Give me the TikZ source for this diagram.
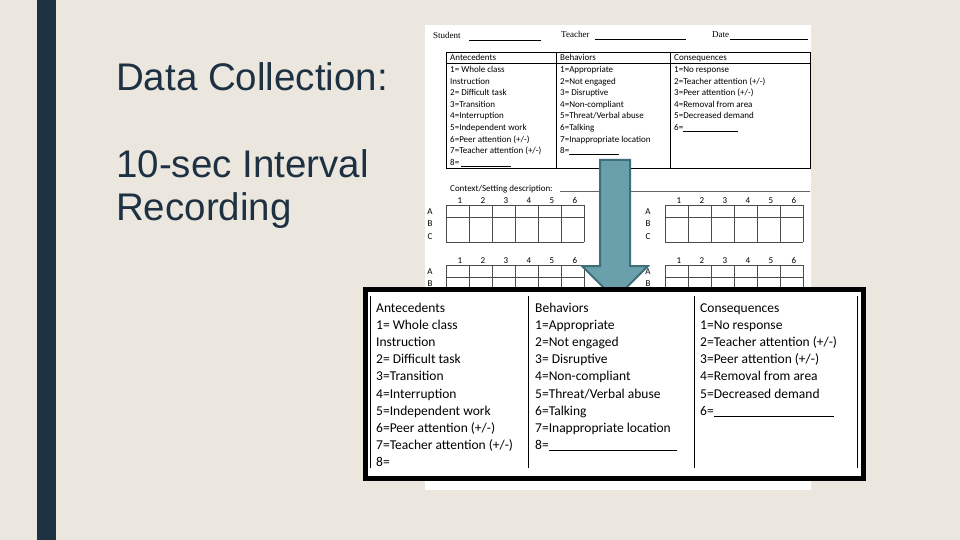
\documentclass[tikz,border=0pt]{standalone}
\usepackage{fontspec}
\setmainfont{Carlito}
\newfontfamily\titlefont{Liberation Sans}
\newfontfamily\formfont{Liberation Serif}
\definecolor{bg}{HTML}{EBE7DF}
\definecolor{bar}{HTML}{1E3142}
\definecolor{arrowfill}{HTML}{6AA0A9}
\definecolor{arrowline}{HTML}{3E6E77}
\begin{document}
\begin{tikzpicture}[x=1pt,y=-1pt,
  small/.style={anchor=base west,inner sep=0,font=\fontsize{9}{10}\selectfont},
  big/.style={anchor=base west,inner sep=0,font=\fontsize{13.5}{14}\selectfont},
  title/.style={anchor=base west,inner sep=0,font=\titlefont\fontsize{38.5}{40}\selectfont,text=bar},
  grid/.style={draw=black!70,line width=0.5pt}]
\useasboundingbox (0,0) rectangle (960,540);
\fill[bg] (0,0) rectangle (960,540);
\fill[bar] (37,0) rectangle (56,540);
\node[title] (t1) at (116,91) {Data Collection:};
\node[title] (t2) at (116,178) {10-sec Interval};
\node[title] (t3) at (116,220) {Recording};
% form page
\fill[white] (425,25) rectangle (811,490);
\node[anchor=base west,inner sep=0,font=\formfont\fontsize{9}{10}\selectfont] (st) at (433,39) {Student};
\draw[black,line width=0.4pt] (469,40) -- (541,40);
\node[anchor=base west,inner sep=0,font=\formfont\fontsize{9}{10}\selectfont] (te) at (561,38) {Teacher};
\draw[black,line width=0.4pt] (595,39) -- (686,39);
\node[anchor=base west,inner sep=0,font=\formfont\fontsize{9}{10}\selectfont] (da) at (712,38) {Date};
\draw[black,line width=0.4pt] (730,39) -- (808,39);
% small table
\draw[line width=0.5pt] (446,52) rectangle (810,168);
\draw[line width=0.5pt] (446,63) -- (810,63);
\draw[line width=0.5pt] (556,52) -- (556,168) (670,52) -- (670,168);
\foreach \t [count=\i from 0] in {Antecedents,1= Whole class,Instruction,2= Difficult task,3=Transition,4=Interruption,5=Independent work,6=Peer attention (+/-),7=Teacher attention (+/-),8= \rule[-1pt]{50pt}{0.4pt}}
  \node[small] (sa\i) at (450,{61+11.6*\i}) {\t};
\foreach \t [count=\i from 0] in {Behaviors,1=Appropriate,2=Not engaged,3= Disruptive,4=Non-compliant,5=Threat/Verbal abuse,6=Talking,7=Inappropriate location,8=\rule[-1pt]{50pt}{0.4pt}}
  \node[small] (sb\i) at (560,{61+11.6*\i}) {\t};
\foreach \t [count=\i from 0] in {Consequences,1=No response,2=Teacher attention (+/-),3=Peer attention (+/-),4=Removal from area,5=Decreased demand,6=\rule[-1pt]{55pt}{0.4pt}}
  \node[small] (sc\i) at (674,{61+11.6*\i}) {\t};
\node[small] (ctx) at (450,191) {Context/Setting description:};
\draw[line width=0.4pt,black!60] (560,191) -- (810,191);
% grids
\foreach \gx/\lx/\gy in {446/430/205,665/648/205,446/430/265,665/648/265}{
  \foreach \n in {1,...,6} \node[small,anchor=base] at ({\gx+14+23*(\n-1)},{\gy-2}) {\n};
  \foreach \r [count=\j from 0] in {A,B,C} \node[small,anchor=base] at (\lx,{\gy+9+12.5*\j}) {\r};
  \draw[grid] (\gx,\gy) -- ({\gx+138},\gy) (\gx,{\gy+12}) -- ({\gx+138},{\gy+12});
  \foreach \k in {0,...,6} \draw[grid] ({\gx+23*\k},\gy) -- ({\gx+23*\k},{\gy+37});
  \draw[grid] (\gx,{\gy+37}) -- ({\gx+138},{\gy+37});
}
% arrow
\draw[arrowline,line width=2pt,fill=arrowfill,line join=miter]
  (600,160) -- (630,160) -- (630,266) -- (648,266) -- (615,299) -- (582,266) -- (600,266) -- cycle;
% big table
\fill[white] (363,287) rectangle (866,481);
\draw[black,line width=5pt] (365.5,289.5) rectangle (863.5,478.5);
\draw[line width=0.7pt] (370,296) -- (370,468) (528,296) -- (528,468) (694,296) -- (694,468) (857,296) -- (857,468);
\foreach \t [count=\i from 0] in {Antecedents,1= Whole class,Instruction,2= Difficult task,3=Transition,4=Interruption,5=Independent work,6=Peer attention (+/-),7=Teacher attention (+/-),8=}
  \node[big] (ba\i) at (376,{312+17.2*\i}) {\t};
\foreach \t [count=\i from 0] in {Behaviors,1=Appropriate,2=Not engaged,3= Disruptive,4=Non-compliant,5=Threat/Verbal abuse,6=Talking,7=Inappropriate location,8=\rule[-1pt]{128pt}{0.6pt}}
  \node[big] (bb\i) at (535,{312+17.2*\i}) {\t};
\foreach \t [count=\i from 0] in {Consequences,1=No response,2=Teacher attention (+/-),3=Peer attention (+/-),4=Removal from area,5=Decreased demand,6=\rule[-1pt]{120pt}{0.6pt}}
  \node[big] (bc\i) at (700,{312+17.2*\i}) {\t};
\end{tikzpicture}
\end{document}
